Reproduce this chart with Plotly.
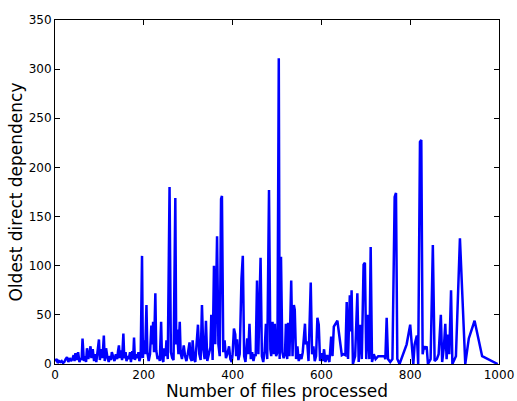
import plotly.graph_objects as go

files_processed = [0,2,4,6,9,12,15,18,21,24,27,30,33,36,39,42,44,46,49,52,55,58,60,62,65,68,70,72,75,78,80,82,85,88,91,93,96,99,101,104,107,110,112,115,118,121,124,126,128,131,134,137,140,142,144,146,149,151,154,156,159,161,164,166,169,171,174,176,178,180,183,185,188,190,193,196,198,200,203,206,208,211,214,217,219,221,223,226,228,231,234,236,239,241,244,246,249,251,254,258,261,264,267,271,273,275,278,281,283,286,290,293,296,299,303,305,308,310,313,316,320,322,325,328,331,334,337,340,343,346,350,352,355,358,361,365,368,371,374,376,379,382,385,388,392,395,398,400,403,406,408,410,413,416,420,423,426,429,433,435,438,441,444,447,450,452,455,458,463,466,469,472,475,478,482,485,487,490,493,495,498,501,504,506,509,512,515,518,520,523,525,528,532,535,538,540,543,546,549,552,555,558,563,565,568,571,576,579,582,585,588,591,594,597,600,603,606,609,613,618,622,625,628,636,642,646,650,654,657,660,664,666,668,671,676,681,684,688,691,695,698,701,705,708,711,714,718,722,728,742,744,747,750,755,760,765,768,771,776,783,792,800,803,807,810,815,818,822,825,828,831,834,837,840,846,851,855,860,864,869,872,876,879,882,885,888,892,895,903,912,924,932,945,962,997]

oldest_dependency = [3,4,5,1,3,2,3,1,2,5,7,2,6,3,5,9,3,11,4,12,2,6,4,26,3,8,2,16,5,12,18,6,15,3,10,2,12,25,4,15,6,29,3,16,7,2,8,4,12,8,3,10,5,13,19,6,14,4,31,6,12,3,8,5,12,2,13,5,27,4,10,6,12,3,8,110,6,24,10,60,12,3,10,39,20,43,12,72,14,5,8,3,43,6,2,16,8,24,5,180,12,6,4,169,20,35,10,43,11,5,19,8,3,10,22,6,3,24,5,2,28,40,10,4,60,15,5,44,3,10,17,50,4,100,20,130,20,8,168,171,12,24,6,10,18,5,2,10,36,30,8,25,4,10,87,110,8,2,26,10,41,5,12,3,10,8,85,10,108,8,2,12,41,5,177,15,8,43,10,41,8,12,311,5,109,12,6,10,41,5,42,8,85,8,60,55,5,18,3,10,5,12,41,20,23,3,83,10,18,3,8,47,40,3,11,3,15,2,9,2,28,8,38,44,24,9,10,9,63,5,70,33,75,0,8,72,2,40,5,101,103,5,50,5,119,2,10,5,8,8,5,47,5,2,5,170,174,5,0,8,20,40,20,0,20,29,0,226,228,10,18,15,18,0,5,121,3,5,10,50,2,18,41,5,30,10,75,0,8,128,0,26,44,8,0]

x_ticks = [0, 200, 400, 600, 800, 1000]
y_ticks = [0, 50, 100, 150, 200, 250, 300, 350]

fig = go.Figure()
fig.add_trace(go.Scatter(
    x=files_processed, y=oldest_dependency, mode="lines",
    line=dict(color="#0000ff", width=2.5), showlegend=False,
))

axis_common = dict(
    showline=True, linecolor="black", linewidth=1, mirror="ticks",
    ticks="inside", ticklen=5, tickwidth=1, tickcolor="black",
    showgrid=False, zeroline=False, automargin=False,
    tickfont=dict(family="DejaVu Sans", size=12, color="black"),
)

fig.update_layout(
    width=517, height=401,
    margin=dict(l=55, r=18, t=20, b=37),
    paper_bgcolor="white", plot_bgcolor="white",
    xaxis=dict(range=[0, 1000], tickvals=x_ticks,
               title=dict(text="Number of files processed", standoff=2,
                          font=dict(family="DejaVu Sans", size=17, color="black")),
               **axis_common),
    yaxis=dict(range=[0, 350], tickvals=y_ticks,
               title=dict(text="Oldest direct dependency", standoff=1,
                          font=dict(family="DejaVu Sans", size=17, color="black")),
               **axis_common),
)

fig.write_html("out.html")
